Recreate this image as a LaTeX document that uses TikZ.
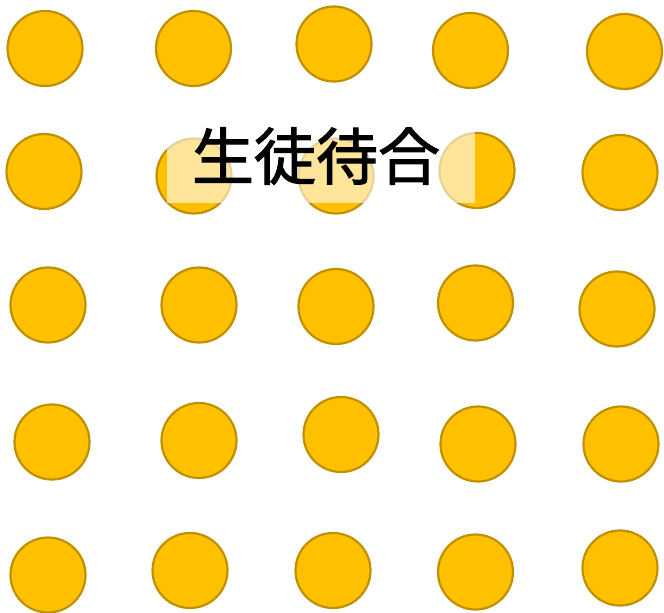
\documentclass[tikz,border=0pt]{standalone}
\usepackage{fontspec}
\newfontfamily\cjk[FakeBold=1.6]{Noto Sans CJK JP}
\definecolor{dotfill}{HTML}{FFC000}
\definecolor{dotline}{HTML}{BF9000}
\tikzset{
  dot/.style={circle, fill=dotfill, draw=dotline, line width=2.2pt, minimum size=75pt, inner sep=0pt},
  veil/.style={fill=white, fill opacity=0.6, draw=none, inner sep=0pt},
  title/.style={font=\cjk\fontsize{62}{74}\selectfont, text=black, inner sep=0pt}
}
\begin{document}
\begin{tikzpicture}[x=1pt,y=1pt]
\useasboundingbox (0,0) rectangle (664,-613);
% row 1
\node[dot] (c11) at (45,-48.5) {};
\node[dot] (c12) at (193.5,-48.5) {};
\node[dot] (c13) at (334,-44) {};
\node[dot] (c14) at (470.5,-50.5) {};
\node[dot] (c15) at (624.5,-51.5) {};
% row 2
\node[dot] (c21) at (44,-171.5) {};
\node[dot] (c22) at (194,-176) {};
\node[dot] (c23) at (336,-176) {};
\node[dot] (c24) at (477,-170.5) {};
\node[dot] (c25) at (620,-172.5) {};
% row 3
\node[dot] (c31) at (48,-305) {};
\node[dot] (c32) at (199,-305) {};
\node[dot] (c33) at (336,-306.5) {};
\node[dot] (c34) at (475.5,-303) {};
\node[dot] (c35) at (617,-309) {};
% row 4
\node[dot] (c41) at (52,-442) {};
\node[dot] (c42) at (199,-440.5) {};
\node[dot] (c43) at (341,-434.5) {};
\node[dot] (c44) at (478,-444) {};
\node[dot] (c45) at (621,-444) {};
% row 5
\node[dot] (c51) at (48,-575) {};
\node[dot] (c52) at (190,-570.5) {};
\node[dot] (c53) at (333,-570.5) {};
\node[dot] (c54) at (475.5,-572) {};
\node[dot] (c55) at (620,-568) {};
% label box
\node[veil, minimum width=308pt, minimum height=93pt] (box) at (321,-156.5) {};
\node[title] (label) at (316,-156) {生徒待合};
\end{tikzpicture}
\end{document}
